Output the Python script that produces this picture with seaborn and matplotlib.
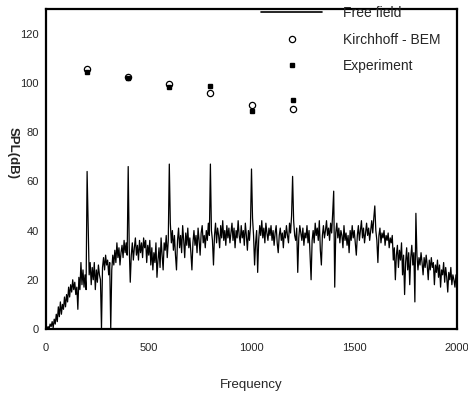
import numpy as np
import pandas as pd
import seaborn as sns
from matplotlib import pyplot as plt
from matplotlib.ticker import MultipleLocator
from matplotlib.lines import Line2D

# free field spectrum, read every 5 Hz off the picture (0 .. 2000 Hz)
freq = np.arange(0, 2001, 5)
spl_free = [
    0, 0, 1, 0, 2, 1, 3, 0.5, 4, 2, 6, 3, 9, 5, 11, 6, 10, 8, 13, 9,
    14, 11, 17, 13, 18, 15, 20, 16, 19, 14, 17, 8, 21, 16, 27, 18, 24, 17, 22, 16,
    64, 42, 22, 27, 18, 25, 20, 27, 16, 24, 19, 26, 22, 20, 0, 25, 29, 24, 30, 26,
    28, 22, 27, 0, 24, 30, 26, 32, 27, 35, 29, 33, 26, 31, 34, 29, 36, 31, 35, 30,
    66, 33, 19, 30, 35, 28, 33, 37, 30, 34, 28, 36, 31, 35, 29, 37, 33, 36, 27, 34,
    30, 36, 26, 33, 24, 31, 27, 35, 21, 28, 33, 25, 37, 30, 24, 35, 32, 38, 29, 36,
    67, 43, 35, 40, 32, 38, 30, 24, 36, 41, 33, 38, 31, 42, 36, 29, 39, 34, 41, 33,
    37, 31, 24, 35, 40, 34, 38, 31, 41, 36, 30, 39, 42, 35, 38, 33, 40, 36, 43, 38,
    67, 40, 36, 26, 38, 43, 35, 41, 38, 33, 42, 37, 44, 36, 40, 34, 42, 37, 41, 35,
    39, 43, 36, 41, 33, 40, 37, 44, 38, 35, 42, 37, 40, 34, 43, 38, 32, 40, 36, 42,
    65, 45, 38, 26, 35, 40, 23, 36, 42, 38, 44, 37, 41, 35, 43, 39, 36, 41, 38, 42,
    36, 40, 34, 39, 42, 35, 31, 38, 41, 36, 39, 33, 40, 37, 42, 38, 35, 43, 39, 46,
    62, 44, 38, 36, 41, 23, 37, 42, 39, 36, 41, 34, 39, 37, 42, 35, 40, 30, 20, 36,
    40, 35, 43, 38, 41, 36, 44, 32, 26, 38, 42, 37, 40, 44, 38, 41, 36, 43, 39, 47,
    56, 17, 39, 43, 37, 41, 35, 40, 38, 33, 42, 36, 39, 34, 38, 31, 40, 36, 42, 37,
    40, 35, 30, 38, 42, 36, 40, 44, 37, 41, 35, 39, 43, 38, 41, 36, 40, 44, 39, 45,
    50, 40, 36, 27, 38, 41, 35, 39, 37, 40, 34, 38, 36, 39, 33, 37, 35, 38, 28, 33,
    20, 30, 34, 25, 32, 28, 35, 22, 30, 14, 27, 33, 24, 31, 18, 29, 34, 26, 31, 11,
    47, 30, 24, 29, 26, 31, 27, 22, 29, 25, 30, 26, 20, 28, 24, 29, 25, 27, 18, 26,
    23, 28, 21, 26, 17, 24, 22, 27, 19, 25, 21, 15, 23, 20, 25, 18, 22, 20, 17, 22,
    19,
]

# harmonics
harm_freq = [200, 400, 600, 800, 1000, 1200]
spl_kirchhoff = [105.5, 102.5, 99.5, 96, 91, 89.5]
spl_experiment = [104.5, 101.8, 98.5, 98.8, 88.5, 93]

free_df = pd.DataFrame({'Frequency': freq, 'SPL': spl_free})

sns.set_style("white")
plt.rcParams['font.family'] = ['Liberation Sans', 'DejaVu Sans']

fig = plt.figure(figsize=(4.68, 3.93), dpi=100)
ax = fig.add_axes([46/468, 1 - 329/393, (457 - 46)/468, (329 - 9)/393])

sns.lineplot(data=free_df, x='Frequency', y='SPL', color='black', linewidth=0.9,
             estimator=None, ax=ax)
ax.plot(harm_freq, spl_kirchhoff, linestyle='none', marker='o', markersize=4.5,
        markerfacecolor='white', markeredgecolor='black', markeredgewidth=0.9)
ax.plot(harm_freq, spl_experiment, linestyle='none', marker='s', markersize=3.3,
        color='black')

ax.set_xlim(0, 2000)
ax.set_ylim(0, 130)
ax.xaxis.set_major_locator(MultipleLocator(500))
ax.xaxis.set_minor_locator(MultipleLocator(100))
ax.yaxis.set_major_locator(MultipleLocator(20))
ax.yaxis.set_minor_locator(MultipleLocator(5))
ax.tick_params(which='both', direction='in', top=False, right=False,
               labelsize=8, color='black', pad=5)
ax.tick_params(axis='x', which='both', pad=10)
ax.tick_params(which='major', length=5, width=1.2)
ax.tick_params(which='minor', length=3, width=1)
for s in ax.spines.values():
    s.set_linewidth(1.6)
    s.set_color('black')

ax.set_xlabel('Frequency', fontsize=9.5)
ax.xaxis.set_label_coords(0.5, -0.155)
ax.set_ylabel('SPL(dB)', fontsize=9.5, fontweight='bold', rotation=270,
              ha='center', va='center')
ax.yaxis.set_label_coords(-0.08, 0.55)

handles = [
    Line2D([], [], color='black', linewidth=1.2),
    Line2D([], [], linestyle='none', marker='o', markersize=4.5,
           markerfacecolor='white', markeredgecolor='black', markeredgewidth=0.9),
    Line2D([], [], linestyle='none', marker='s', markersize=3.3, color='black'),
]
fig.legend(handles, ['Free field', 'Kirchhoff - BEM', 'Experiment'],
           loc='upper left', bbox_to_anchor=(261/468, 1 - 6/393),
           frameon=False, fontsize=10, handlelength=4.4, handletextpad=1.5,
           labelspacing=0.9, borderpad=0, borderaxespad=0)

plt.savefig('out.png', dpi=100)
